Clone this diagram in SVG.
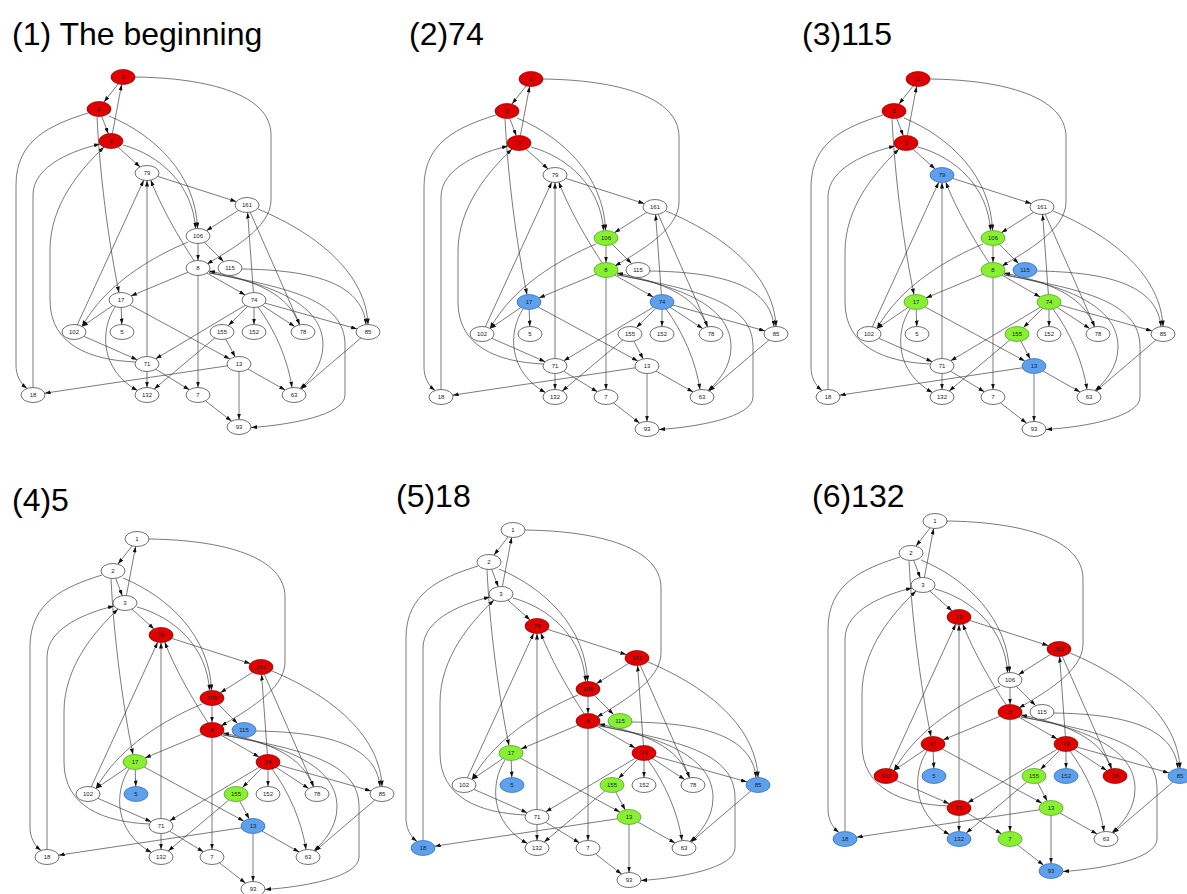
<svg xmlns="http://www.w3.org/2000/svg" xmlns:xlink="http://www.w3.org/1999/xlink" width="1187" height="894" viewBox="0 0 1187 894">
<style>
.w ellipse{fill:#fff;stroke:#333;stroke-width:0.7}
.r ellipse{fill:#e00000;stroke:#8a0000;stroke-width:0.7}
.g ellipse{fill:#88f032;stroke:#4f9a1a;stroke-width:0.7}
.b ellipse{fill:#5ca0ee;stroke:#2f66b0;stroke-width:0.7}
.nodes text{font-family:'Liberation Sans',Arial,sans-serif;font-size:6px;text-anchor:middle;fill:#222}
.e path{fill:none;stroke:#333;stroke-width:0.65;marker-end:url(#ah)}
.t{font-family:'Liberation Sans',Arial,Helvetica,sans-serif;font-size:32px;fill:#000}
</style>
<defs>
<marker id="ah" viewBox="0 0 6 4" refX="6" refY="2" markerWidth="6" markerHeight="4" markerUnits="userSpaceOnUse" orient="auto"><path d="M0,0 L6,2 L0,4 z" fill="#111"/></marker>
</defs>
<rect width="1187" height="894" fill="#fff"/>
<g id="titles">
<text class="t" x="12" y="45">(1) The beginning</text>
<text class="t" x="409" y="45">(2)74</text>
<text class="t" x="802" y="45">(3)115</text>
<text class="t" x="12" y="511">(4)5</text>
<text class="t" x="396" y="507">(5)18</text>
<text class="t" x="812" y="507">(6)132</text>
</g>
<g id="connectors">
<g id="edges-p1" class="e">
<path d="M118,84 L104,102"/>
<path d="M112.4,133.5 L121.6,84.5"/>
<path d="M101.7,116.3 L108.3,133.7"/>
<path d="M109,116 C155,135 196,175 197.5,228.5"/>
<path d="M123,145 C160,155 193,185 195.5,228.5"/>
<path d="M117.9,147.1 L140.1,166.9"/>
<path d="M88,113 C50,125 16,140 16,185 L16,365 C16,375 20,383 27,388.5"/>
<path d="M33,387.5 L33,195 C33,165 75,150 100,144"/>
<path d="M135.5,362 C90,360 50,345 50,300 L50,250 C50,205 80,170 104,147"/>
<path d="M97,116.5 C100,180 110,250 119,292.5"/>
<path d="M77.3,324.8 L143.7,180.2"/>
<path d="M147,356.5 L147,180.5"/>
<path d="M194.2,260.9 C180,240 160,205 150.8,180.1"/>
<path d="M157.7,176.4 L236.3,201.6"/>
<path d="M238.6,210.3 L206.4,230.7"/>
<path d="M135,77 C210,78 271,95 271,135 L271,200 C271,228 230,250 207,264"/>
<path d="M198,243.5 L198,260.5"/>
<path d="M204.4,242.4 L223.6,261.6"/>
<path d="M188,242 C150,258 105,285 82,326.5"/>
<path d="M188,272.2 L131,295.9"/>
<path d="M206.9,273.1 L245.1,294.9"/>
<path d="M198,275.5 L198,387.5"/>
<path d="M299,325 C290,295 255,280 209,271"/>
<path d="M209,272.5 C275,285 323,305 323,345 C323,365 310,380 300,388.6"/>
<path d="M209,273 C290,288 345,300 345,345 L345,395 C345,415 290,425 251,427.5"/>
<path d="M253.4,292.5 L247.6,212.5"/>
<path d="M250.2,212.2 L299.8,324.8"/>
<path d="M258,209 C320,235 366,275 368,324.5"/>
<path d="M242,269 C310,270 362,282 366,324.5"/>
<path d="M247.6,306.4 L228.4,325.6"/>
<path d="M254,307.5 L254,324.5"/>
<path d="M262.3,305.4 L294.7,326.6"/>
<path d="M265,303.1 L357,328.9"/>
<path d="M258,307 C275,330 288,360 292,387.6"/>
<path d="M245.3,305.2 L155.7,358.8"/>
<path d="M225.8,339.1 L235.2,356.9"/>
<path d="M214.8,338 L154.2,389"/>
<path d="M112.9,305.5 L82.1,326.5"/>
<path d="M121.2,307.5 L121.8,324.5"/>
<path d="M115,307 C100,330 100,370 137.5,390.5"/>
<path d="M130,304.9 L229.9,359.1"/>
<path d="M83.8,336.3 L137.2,359.7"/>
<path d="M147,371.5 L147,387.5"/>
<path d="M155.6,369.2 L189.4,389.8"/>
<path d="M227.3,365.8 L44.7,393.2"/>
<path d="M247.9,369 L285.1,390"/>
<path d="M239,371.5 L239,419.5"/>
<path d="M205.5,400.9 L231.5,421.1"/>
<path d="M360.9,338 L301.1,389"/>
</g>
<use href="#edges-p1" xlink:href="#edges-p1" transform="translate(408,2)"/>
<use href="#edges-p1" xlink:href="#edges-p1" transform="translate(795,2)"/>
<use href="#edges-p1" xlink:href="#edges-p1" transform="translate(14,462)"/>
<use href="#edges-p1" xlink:href="#edges-p1" transform="translate(390,453)"/>
<use href="#edges-p1" xlink:href="#edges-p1" transform="translate(812,444)"/>
</g>
<g id="nodes" class="nodes">
<g id="panel1">
<g id="p1-1" class="r"><ellipse cx="123" cy="77" rx="12" ry="7.5"/><text x="123" y="79">1</text></g>
<g id="p1-2" class="r"><ellipse cx="99" cy="109" rx="12" ry="7.5"/><text x="99" y="111">2</text></g>
<g id="p1-3" class="r"><ellipse cx="111" cy="141" rx="12" ry="7.5"/><text x="111" y="143">3</text></g>
<g id="p1-79" class="w"><ellipse cx="147" cy="173" rx="12" ry="7.5"/><text x="147" y="175">79</text></g>
<g id="p1-161" class="w"><ellipse cx="247" cy="205" rx="12" ry="7.5"/><text x="247" y="207">161</text></g>
<g id="p1-106" class="w"><ellipse cx="198" cy="236" rx="12" ry="7.5"/><text x="198" y="238">106</text></g>
<g id="p1-8" class="w"><ellipse cx="198" cy="268" rx="12" ry="7.5"/><text x="198" y="270">8</text></g>
<g id="p1-115" class="w"><ellipse cx="230" cy="268" rx="12" ry="7.5"/><text x="230" y="270">115</text></g>
<g id="p1-17" class="w"><ellipse cx="121" cy="300" rx="12" ry="7.5"/><text x="121" y="302">17</text></g>
<g id="p1-74" class="w"><ellipse cx="254" cy="300" rx="12" ry="7.5"/><text x="254" y="302">74</text></g>
<g id="p1-102" class="w"><ellipse cx="74" cy="332" rx="12" ry="7.5"/><text x="74" y="334">102</text></g>
<g id="p1-5" class="w"><ellipse cx="122" cy="332" rx="12" ry="7.5"/><text x="122" y="334">5</text></g>
<g id="p1-155" class="w"><ellipse cx="222" cy="332" rx="12" ry="7.5"/><text x="222" y="334">155</text></g>
<g id="p1-152" class="w"><ellipse cx="254" cy="332" rx="12" ry="7.5"/><text x="254" y="334">152</text></g>
<g id="p1-78" class="w"><ellipse cx="303" cy="332" rx="12" ry="7.5"/><text x="303" y="334">78</text></g>
<g id="p1-85" class="w"><ellipse cx="368" cy="332" rx="12" ry="7.5"/><text x="368" y="334">85</text></g>
<g id="p1-71" class="w"><ellipse cx="147" cy="364" rx="12" ry="7.5"/><text x="147" y="366">71</text></g>
<g id="p1-13" class="w"><ellipse cx="239" cy="364" rx="12" ry="7.5"/><text x="239" y="366">13</text></g>
<g id="p1-18" class="w"><ellipse cx="33" cy="395" rx="12" ry="7.5"/><text x="33" y="397">18</text></g>
<g id="p1-132" class="w"><ellipse cx="147" cy="395" rx="12" ry="7.5"/><text x="147" y="397">132</text></g>
<g id="p1-7" class="w"><ellipse cx="198" cy="395" rx="12" ry="7.5"/><text x="198" y="397">7</text></g>
<g id="p1-63" class="w"><ellipse cx="294" cy="395" rx="12" ry="7.5"/><text x="294" y="397">63</text></g>
<g id="p1-93" class="w"><ellipse cx="239" cy="427" rx="12" ry="7.5"/><text x="239" y="429">93</text></g>
</g>
<g id="panel2" transform="translate(408,2)">
<g id="p2-1" class="r"><ellipse cx="123" cy="77" rx="12" ry="7.5"/><text x="123" y="79">1</text></g>
<g id="p2-2" class="r"><ellipse cx="99" cy="109" rx="12" ry="7.5"/><text x="99" y="111">2</text></g>
<g id="p2-3" class="r"><ellipse cx="111" cy="141" rx="12" ry="7.5"/><text x="111" y="143">3</text></g>
<g id="p2-79" class="w"><ellipse cx="147" cy="173" rx="12" ry="7.5"/><text x="147" y="175">79</text></g>
<g id="p2-161" class="w"><ellipse cx="247" cy="205" rx="12" ry="7.5"/><text x="247" y="207">161</text></g>
<g id="p2-106" class="g"><ellipse cx="198" cy="236" rx="12" ry="7.5"/><text x="198" y="238">106</text></g>
<g id="p2-8" class="g"><ellipse cx="198" cy="268" rx="12" ry="7.5"/><text x="198" y="270">8</text></g>
<g id="p2-115" class="w"><ellipse cx="230" cy="268" rx="12" ry="7.5"/><text x="230" y="270">115</text></g>
<g id="p2-17" class="b"><ellipse cx="121" cy="300" rx="12" ry="7.5"/><text x="121" y="302">17</text></g>
<g id="p2-74" class="b"><ellipse cx="254" cy="300" rx="12" ry="7.5"/><text x="254" y="302">74</text></g>
<g id="p2-102" class="w"><ellipse cx="74" cy="332" rx="12" ry="7.5"/><text x="74" y="334">102</text></g>
<g id="p2-5" class="w"><ellipse cx="122" cy="332" rx="12" ry="7.5"/><text x="122" y="334">5</text></g>
<g id="p2-155" class="w"><ellipse cx="222" cy="332" rx="12" ry="7.5"/><text x="222" y="334">155</text></g>
<g id="p2-152" class="w"><ellipse cx="254" cy="332" rx="12" ry="7.5"/><text x="254" y="334">152</text></g>
<g id="p2-78" class="w"><ellipse cx="303" cy="332" rx="12" ry="7.5"/><text x="303" y="334">78</text></g>
<g id="p2-85" class="w"><ellipse cx="368" cy="332" rx="12" ry="7.5"/><text x="368" y="334">85</text></g>
<g id="p2-71" class="w"><ellipse cx="147" cy="364" rx="12" ry="7.5"/><text x="147" y="366">71</text></g>
<g id="p2-13" class="w"><ellipse cx="239" cy="364" rx="12" ry="7.5"/><text x="239" y="366">13</text></g>
<g id="p2-18" class="w"><ellipse cx="33" cy="395" rx="12" ry="7.5"/><text x="33" y="397">18</text></g>
<g id="p2-132" class="w"><ellipse cx="147" cy="395" rx="12" ry="7.5"/><text x="147" y="397">132</text></g>
<g id="p2-7" class="w"><ellipse cx="198" cy="395" rx="12" ry="7.5"/><text x="198" y="397">7</text></g>
<g id="p2-63" class="w"><ellipse cx="294" cy="395" rx="12" ry="7.5"/><text x="294" y="397">63</text></g>
<g id="p2-93" class="w"><ellipse cx="239" cy="427" rx="12" ry="7.5"/><text x="239" y="429">93</text></g>
</g>
<g id="panel3" transform="translate(795,2)">
<g id="p3-1" class="r"><ellipse cx="123" cy="77" rx="12" ry="7.5"/><text x="123" y="79">1</text></g>
<g id="p3-2" class="r"><ellipse cx="99" cy="109" rx="12" ry="7.5"/><text x="99" y="111">2</text></g>
<g id="p3-3" class="r"><ellipse cx="111" cy="141" rx="12" ry="7.5"/><text x="111" y="143">3</text></g>
<g id="p3-79" class="b"><ellipse cx="147" cy="173" rx="12" ry="7.5"/><text x="147" y="175">79</text></g>
<g id="p3-161" class="w"><ellipse cx="247" cy="205" rx="12" ry="7.5"/><text x="247" y="207">161</text></g>
<g id="p3-106" class="g"><ellipse cx="198" cy="236" rx="12" ry="7.5"/><text x="198" y="238">106</text></g>
<g id="p3-8" class="g"><ellipse cx="198" cy="268" rx="12" ry="7.5"/><text x="198" y="270">8</text></g>
<g id="p3-115" class="b"><ellipse cx="230" cy="268" rx="12" ry="7.5"/><text x="230" y="270">115</text></g>
<g id="p3-17" class="g"><ellipse cx="121" cy="300" rx="12" ry="7.5"/><text x="121" y="302">17</text></g>
<g id="p3-74" class="g"><ellipse cx="254" cy="300" rx="12" ry="7.5"/><text x="254" y="302">74</text></g>
<g id="p3-102" class="w"><ellipse cx="74" cy="332" rx="12" ry="7.5"/><text x="74" y="334">102</text></g>
<g id="p3-5" class="w"><ellipse cx="122" cy="332" rx="12" ry="7.5"/><text x="122" y="334">5</text></g>
<g id="p3-155" class="g"><ellipse cx="222" cy="332" rx="12" ry="7.5"/><text x="222" y="334">155</text></g>
<g id="p3-152" class="w"><ellipse cx="254" cy="332" rx="12" ry="7.5"/><text x="254" y="334">152</text></g>
<g id="p3-78" class="w"><ellipse cx="303" cy="332" rx="12" ry="7.5"/><text x="303" y="334">78</text></g>
<g id="p3-85" class="w"><ellipse cx="368" cy="332" rx="12" ry="7.5"/><text x="368" y="334">85</text></g>
<g id="p3-71" class="w"><ellipse cx="147" cy="364" rx="12" ry="7.5"/><text x="147" y="366">71</text></g>
<g id="p3-13" class="b"><ellipse cx="239" cy="364" rx="12" ry="7.5"/><text x="239" y="366">13</text></g>
<g id="p3-18" class="w"><ellipse cx="33" cy="395" rx="12" ry="7.5"/><text x="33" y="397">18</text></g>
<g id="p3-132" class="w"><ellipse cx="147" cy="395" rx="12" ry="7.5"/><text x="147" y="397">132</text></g>
<g id="p3-7" class="w"><ellipse cx="198" cy="395" rx="12" ry="7.5"/><text x="198" y="397">7</text></g>
<g id="p3-63" class="w"><ellipse cx="294" cy="395" rx="12" ry="7.5"/><text x="294" y="397">63</text></g>
<g id="p3-93" class="w"><ellipse cx="239" cy="427" rx="12" ry="7.5"/><text x="239" y="429">93</text></g>
</g>
<g id="panel4" transform="translate(14,462)">
<g id="p4-1" class="w"><ellipse cx="123" cy="77" rx="12" ry="7.5"/><text x="123" y="79">1</text></g>
<g id="p4-2" class="w"><ellipse cx="99" cy="109" rx="12" ry="7.5"/><text x="99" y="111">2</text></g>
<g id="p4-3" class="w"><ellipse cx="111" cy="141" rx="12" ry="7.5"/><text x="111" y="143">3</text></g>
<g id="p4-79" class="r"><ellipse cx="147" cy="173" rx="12" ry="7.5"/><text x="147" y="175">79</text></g>
<g id="p4-161" class="r"><ellipse cx="247" cy="205" rx="12" ry="7.5"/><text x="247" y="207">161</text></g>
<g id="p4-106" class="r"><ellipse cx="198" cy="236" rx="12" ry="7.5"/><text x="198" y="238">106</text></g>
<g id="p4-8" class="r"><ellipse cx="198" cy="268" rx="12" ry="7.5"/><text x="198" y="270">8</text></g>
<g id="p4-115" class="b"><ellipse cx="230" cy="268" rx="12" ry="7.5"/><text x="230" y="270">115</text></g>
<g id="p4-17" class="g"><ellipse cx="121" cy="300" rx="12" ry="7.5"/><text x="121" y="302">17</text></g>
<g id="p4-74" class="r"><ellipse cx="254" cy="300" rx="12" ry="7.5"/><text x="254" y="302">74</text></g>
<g id="p4-102" class="w"><ellipse cx="74" cy="332" rx="12" ry="7.5"/><text x="74" y="334">102</text></g>
<g id="p4-5" class="b"><ellipse cx="122" cy="332" rx="12" ry="7.5"/><text x="122" y="334">5</text></g>
<g id="p4-155" class="g"><ellipse cx="222" cy="332" rx="12" ry="7.5"/><text x="222" y="334">155</text></g>
<g id="p4-152" class="w"><ellipse cx="254" cy="332" rx="12" ry="7.5"/><text x="254" y="334">152</text></g>
<g id="p4-78" class="w"><ellipse cx="303" cy="332" rx="12" ry="7.5"/><text x="303" y="334">78</text></g>
<g id="p4-85" class="w"><ellipse cx="368" cy="332" rx="12" ry="7.5"/><text x="368" y="334">85</text></g>
<g id="p4-71" class="w"><ellipse cx="147" cy="364" rx="12" ry="7.5"/><text x="147" y="366">71</text></g>
<g id="p4-13" class="b"><ellipse cx="239" cy="364" rx="12" ry="7.5"/><text x="239" y="366">13</text></g>
<g id="p4-18" class="w"><ellipse cx="33" cy="395" rx="12" ry="7.5"/><text x="33" y="397">18</text></g>
<g id="p4-132" class="w"><ellipse cx="147" cy="395" rx="12" ry="7.5"/><text x="147" y="397">132</text></g>
<g id="p4-7" class="w"><ellipse cx="198" cy="395" rx="12" ry="7.5"/><text x="198" y="397">7</text></g>
<g id="p4-63" class="w"><ellipse cx="294" cy="395" rx="12" ry="7.5"/><text x="294" y="397">63</text></g>
<g id="p4-93" class="w"><ellipse cx="239" cy="427" rx="12" ry="7.5"/><text x="239" y="429">93</text></g>
</g>
<g id="panel5" transform="translate(390,453)">
<g id="p5-1" class="w"><ellipse cx="123" cy="77" rx="12" ry="7.5"/><text x="123" y="79">1</text></g>
<g id="p5-2" class="w"><ellipse cx="99" cy="109" rx="12" ry="7.5"/><text x="99" y="111">2</text></g>
<g id="p5-3" class="w"><ellipse cx="111" cy="141" rx="12" ry="7.5"/><text x="111" y="143">3</text></g>
<g id="p5-79" class="r"><ellipse cx="147" cy="173" rx="12" ry="7.5"/><text x="147" y="175">79</text></g>
<g id="p5-161" class="r"><ellipse cx="247" cy="205" rx="12" ry="7.5"/><text x="247" y="207">161</text></g>
<g id="p5-106" class="r"><ellipse cx="198" cy="236" rx="12" ry="7.5"/><text x="198" y="238">106</text></g>
<g id="p5-8" class="r"><ellipse cx="198" cy="268" rx="12" ry="7.5"/><text x="198" y="270">8</text></g>
<g id="p5-115" class="g"><ellipse cx="230" cy="268" rx="12" ry="7.5"/><text x="230" y="270">115</text></g>
<g id="p5-17" class="g"><ellipse cx="121" cy="300" rx="12" ry="7.5"/><text x="121" y="302">17</text></g>
<g id="p5-74" class="r"><ellipse cx="254" cy="300" rx="12" ry="7.5"/><text x="254" y="302">74</text></g>
<g id="p5-102" class="w"><ellipse cx="74" cy="332" rx="12" ry="7.5"/><text x="74" y="334">102</text></g>
<g id="p5-5" class="b"><ellipse cx="122" cy="332" rx="12" ry="7.5"/><text x="122" y="334">5</text></g>
<g id="p5-155" class="g"><ellipse cx="222" cy="332" rx="12" ry="7.5"/><text x="222" y="334">155</text></g>
<g id="p5-152" class="w"><ellipse cx="254" cy="332" rx="12" ry="7.5"/><text x="254" y="334">152</text></g>
<g id="p5-78" class="w"><ellipse cx="303" cy="332" rx="12" ry="7.5"/><text x="303" y="334">78</text></g>
<g id="p5-85" class="b"><ellipse cx="368" cy="332" rx="12" ry="7.5"/><text x="368" y="334">85</text></g>
<g id="p5-71" class="w"><ellipse cx="147" cy="364" rx="12" ry="7.5"/><text x="147" y="366">71</text></g>
<g id="p5-13" class="g"><ellipse cx="239" cy="364" rx="12" ry="7.5"/><text x="239" y="366">13</text></g>
<g id="p5-18" class="b"><ellipse cx="33" cy="395" rx="12" ry="7.5"/><text x="33" y="397">18</text></g>
<g id="p5-132" class="w"><ellipse cx="147" cy="395" rx="12" ry="7.5"/><text x="147" y="397">132</text></g>
<g id="p5-7" class="w"><ellipse cx="198" cy="395" rx="12" ry="7.5"/><text x="198" y="397">7</text></g>
<g id="p5-63" class="w"><ellipse cx="294" cy="395" rx="12" ry="7.5"/><text x="294" y="397">63</text></g>
<g id="p5-93" class="w"><ellipse cx="239" cy="427" rx="12" ry="7.5"/><text x="239" y="429">93</text></g>
</g>
<g id="panel6" transform="translate(812,444)">
<g id="p6-1" class="w"><ellipse cx="123" cy="77" rx="12" ry="7.5"/><text x="123" y="79">1</text></g>
<g id="p6-2" class="w"><ellipse cx="99" cy="109" rx="12" ry="7.5"/><text x="99" y="111">2</text></g>
<g id="p6-3" class="w"><ellipse cx="111" cy="141" rx="12" ry="7.5"/><text x="111" y="143">3</text></g>
<g id="p6-79" class="r"><ellipse cx="147" cy="173" rx="12" ry="7.5"/><text x="147" y="175">79</text></g>
<g id="p6-161" class="r"><ellipse cx="247" cy="205" rx="12" ry="7.5"/><text x="247" y="207">161</text></g>
<g id="p6-106" class="w"><ellipse cx="198" cy="236" rx="12" ry="7.5"/><text x="198" y="238">106</text></g>
<g id="p6-8" class="r"><ellipse cx="198" cy="268" rx="12" ry="7.5"/><text x="198" y="270">8</text></g>
<g id="p6-115" class="w"><ellipse cx="230" cy="268" rx="12" ry="7.5"/><text x="230" y="270">115</text></g>
<g id="p6-17" class="r"><ellipse cx="121" cy="300" rx="12" ry="7.5"/><text x="121" y="302">17</text></g>
<g id="p6-74" class="r"><ellipse cx="254" cy="300" rx="12" ry="7.5"/><text x="254" y="302">74</text></g>
<g id="p6-102" class="r"><ellipse cx="74" cy="332" rx="12" ry="7.5"/><text x="74" y="334">102</text></g>
<g id="p6-5" class="b"><ellipse cx="122" cy="332" rx="12" ry="7.5"/><text x="122" y="334">5</text></g>
<g id="p6-155" class="g"><ellipse cx="222" cy="332" rx="12" ry="7.5"/><text x="222" y="334">155</text></g>
<g id="p6-152" class="b"><ellipse cx="254" cy="332" rx="12" ry="7.5"/><text x="254" y="334">152</text></g>
<g id="p6-78" class="r"><ellipse cx="303" cy="332" rx="12" ry="7.5"/><text x="303" y="334">78</text></g>
<g id="p6-85" class="b"><ellipse cx="368" cy="332" rx="12" ry="7.5"/><text x="368" y="334">85</text></g>
<g id="p6-71" class="r"><ellipse cx="147" cy="364" rx="12" ry="7.5"/><text x="147" y="366">71</text></g>
<g id="p6-13" class="g"><ellipse cx="239" cy="364" rx="12" ry="7.5"/><text x="239" y="366">13</text></g>
<g id="p6-18" class="b"><ellipse cx="33" cy="395" rx="12" ry="7.5"/><text x="33" y="397">18</text></g>
<g id="p6-132" class="b"><ellipse cx="147" cy="395" rx="12" ry="7.5"/><text x="147" y="397">132</text></g>
<g id="p6-7" class="g"><ellipse cx="198" cy="395" rx="12" ry="7.5"/><text x="198" y="397">7</text></g>
<g id="p6-63" class="w"><ellipse cx="294" cy="395" rx="12" ry="7.5"/><text x="294" y="397">63</text></g>
<g id="p6-93" class="b"><ellipse cx="239" cy="427" rx="12" ry="7.5"/><text x="239" y="429">93</text></g>
</g>
</g>
</svg>
